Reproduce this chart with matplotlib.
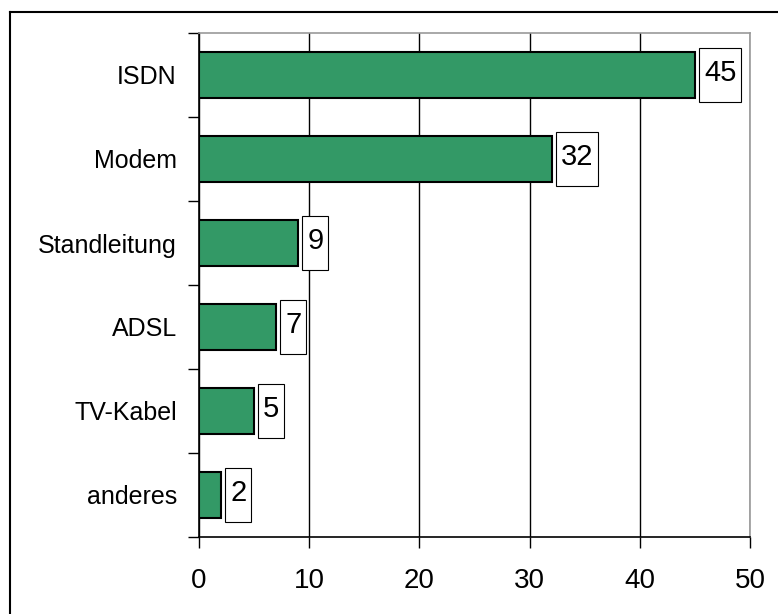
import matplotlib
matplotlib.use('Agg')
import matplotlib.pyplot as plt
from matplotlib.lines import Line2D
from matplotlib.patches import Rectangle

categories = ['ISDN', 'Modem', 'Standleitung', 'ADSL', 'TV-Kabel', 'anderes']
values = [45, 32, 9, 7, 5, 2]
xticks = [0, 10, 20, 30, 40, 50]

plt.rcParams['font.family'] = ['Liberation Sans', 'DejaVu Sans']

fig = plt.figure(figsize=(7.78, 6.14), dpi=100)
ax = fig.add_axes([199 / 778, 1 - 537 / 614, 551 / 778, 504 / 614])

# outer frame (only left and top visible in the reference)
fig.add_artist(Line2D([9.5 / 778, 9.5 / 778], [0, 1 - 12 / 614], transform=fig.transFigure,
                      color='black', lw=1.5))
fig.add_artist(Line2D([9.5 / 778, 1], [1 - 12 / 614, 1 - 12 / 614], transform=fig.transFigure,
                      color='black', lw=1.5))

n = len(categories)
ypos = list(range(n))
ax.barh(ypos, values, height=0.55, color='#339966', edgecolor='black', linewidth=1.5, zorder=3)

ax.set_xlim(0, 50)
ax.set_ylim(n - 0.5, -0.5)
ax.set_xticks(xticks)
ax.set_xticklabels([str(t) for t in xticks], fontsize=20)
ax.set_yticks(ypos)
ax.set_yticklabels(categories, fontsize=18)
ax.set_yticks([i - 0.5 for i in range(n + 1)], minor=True)
ax.tick_params(axis='y', which='major', length=0, pad=16)
ax.tick_params(axis='y', which='minor', length=8, width=1, direction='out')
ax.tick_params(axis='x', length=8, width=1, direction='out', pad=14)

ax.grid(axis='x', color='black', lw=1, zorder=0)
for s in ['top', 'right']:
    ax.spines[s].set_color('#999999')
    ax.spines[s].set_linewidth(1.2)
for s in ['left', 'bottom']:
    ax.spines[s].set_color('black')
    ax.spines[s].set_linewidth(1.2)

# value labels in white boxes, box a bit taller than the bar
renderer = fig.canvas.get_renderer()
inv = ax.transData.inverted()
gap_px, pad_px, box_h = 4, 5, 0.64
for y, v in zip(ypos, values):
    t = ax.text(v, y, str(v), ha='center', va='center', fontsize=21, zorder=5)
    w = t.get_window_extent(renderer).width
    x0_disp = ax.transData.transform((v, y))[0] + gap_px
    x0 = inv.transform((x0_disp, 0))[0]
    x1 = inv.transform((x0_disp + w + 2 * pad_px, 0))[0]
    t.set_x((x0 + x1) / 2)
    t.set_y(y - 0.02)
    ax.add_patch(Rectangle((x0, y - box_h / 2), x1 - x0, box_h, facecolor='white',
                           edgecolor='black', lw=0.8, zorder=4, clip_on=False))

fig.savefig('out.png', dpi=100)
